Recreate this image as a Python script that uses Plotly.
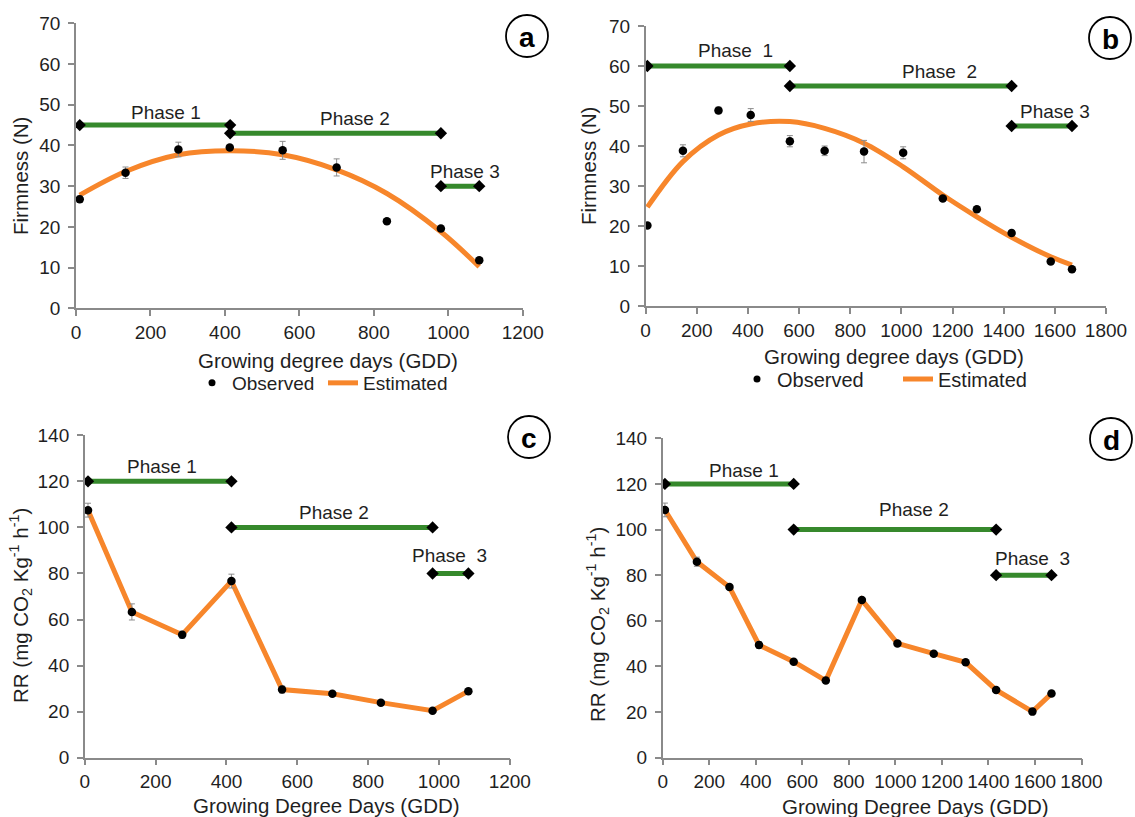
import plotly.graph_objects as go

# ---------------- data ----------------
# Panel a: firmness vs GDD
a_gdd = [10, 133, 275, 413, 555, 700, 835, 980, 1083]
a_obs = [26.8, 33.3, 39.0, 39.5, 38.8, 34.6, 21.4, 19.6, 11.8]
a_err = [0.8, 1.4, 1.8, 0.5, 2.2, 2.1, 0.5, 0.5, 0.5]
a_est = [27.8, 33.6, 37.7, 38.7, 37.7, 34.0, 28.2, 18.8, 10.2]
a_phase_start = [10, 414, 980]
a_phase_end = [414, 980, 1083]
a_phase_level = [45, 43, 30]
a_phase_text = ["Phase 1", "Phase 2", "Phase 3"]
a_phase_tx = [241, 749, 1046]
a_phase_ty = [48.1, 46.7, 33.6]

# Panel b: firmness vs GDD
b_gdd = [7, 146, 285, 411, 564, 700, 854, 1007, 1162, 1295, 1431, 1584, 1667]
b_obs = [20.1, 38.8, 48.9, 47.75, 41.2, 38.8, 38.6, 38.3, 26.9, 24.2, 18.25, 11.1, 9.2]
b_err = [0.5, 1.5, 0.8, 1.6, 1.4, 1.2, 2.8, 1.5, 0.5, 0.6, 0.6, 0.5, 0.4]
b_est = [24.7, 36.1, 42.75, 45.5, 46.1, 44.4, 40.7, 34.8, 27.75, 22.3, 17.2, 12.3, 10.25]
b_phase_start = [7, 564, 1431]
b_phase_end = [564, 1431, 1667]
b_phase_level = [60, 55, 45]
b_phase_text = ["Phase  1", "Phase  2", "Phase 3"]
b_phase_tx = [350, 1148, 1600]
b_phase_ty = [63.8, 58.6, 48.75]

# Panel c: respiration rate vs GDD
c_gdd = [9, 133, 275, 414, 557, 699, 836, 982, 1083]
c_obs = [107.5, 63.3, 53.4, 76.7, 29.6, 27.8, 23.9, 20.4, 28.9]
c_err = [3.0, 3.5, 1.5, 3.0, 1.5, 0.8, 0.8, 0.8, 0.8]
c_phase_start = [9, 414, 982]
c_phase_end = [414, 982, 1083]
c_phase_level = [120, 100, 80]
c_phase_text = ["Phase 1", "Phase 2", "Phase  3"]
c_phase_tx = [217, 705, 1030]
c_phase_ty = [126.5, 106.3, 87.9]

# Panel d: respiration rate vs GDD
d_gdd = [9.5, 147, 287, 414, 563, 701, 856, 1009, 1165, 1302, 1433, 1589, 1671]
d_obs = [108.6, 85.9, 74.8, 49.4, 42.1, 33.8, 69.1, 50.1, 45.6, 41.8, 29.7, 20.2, 28.1]
d_err = [3.0, 2.0, 1.0, 1.5, 0.8, 0.8, 0.8, 0.8, 0.8, 0.8, 0.8, 0.8, 0.8]
d_phase_start = [9.5, 563, 1433]
d_phase_end = [563, 1433, 1671]
d_phase_level = [120, 100, 80]
d_phase_text = ["Phase 1", "Phase 2", "Phase  3"]
d_phase_tx = [350, 1080, 1589]
d_phase_ty = [125.7, 108.9, 87.4]

x_ticks_a = [0, 200, 400, 600, 800, 1000, 1200]
x_ticks_b = [0, 200, 400, 600, 800, 1000, 1200, 1400, 1600, 1800]
y_ticks_firm = [0, 10, 20, 30, 40, 50, 60, 70]
y_ticks_rr = [0, 20, 40, 60, 80, 100, 120, 140]

# ---------------- style ----------------
W, H = 1135, 817
FONT = "Liberation Sans, Arial, sans-serif"
TXT = "#1f1f1f"
ORANGE = "#F7862B"
GREEN = "#36892C"
AXC = "#8a8a8a"
FS = 19
FS_TITLE = 20.5


def px_dom_x(x0, x1):
    return [x0 / W, x1 / W]


def px_dom_y(top, bottom):
    return [1 - bottom / H, 1 - top / H]


fig = go.Figure()

panels = [
    dict(xa="x", ya="y", gdd=a_gdd, obs=a_obs, err=a_err, est=a_est,
         ps=a_phase_start, pe=a_phase_end, pl=a_phase_level, pt=a_phase_text,
         ptx=a_phase_tx, pty=a_phase_ty),
    dict(xa="x2", ya="y2", gdd=b_gdd, obs=b_obs, err=b_err, est=b_est,
         ps=b_phase_start, pe=b_phase_end, pl=b_phase_level, pt=b_phase_text,
         ptx=b_phase_tx, pty=b_phase_ty),
    dict(xa="x3", ya="y3", gdd=c_gdd, obs=c_obs, err=c_err, est=None,
         ps=c_phase_start, pe=c_phase_end, pl=c_phase_level, pt=c_phase_text,
         ptx=c_phase_tx, pty=c_phase_ty),
    dict(xa="x4", ya="y4", gdd=d_gdd, obs=d_obs, err=d_err, est=None,
         ps=d_phase_start, pe=d_phase_end, pl=d_phase_level, pt=d_phase_text,
         ptx=d_phase_tx, pty=d_phase_ty),
]

annotations = []
for p in panels:
    # estimated curve (a, b) or connecting line (c, d)
    if p["est"] is not None:
        fig.add_trace(go.Scatter(
            x=p["gdd"], y=p["est"], mode="lines", name="Estimated",
            line=dict(color=ORANGE, width=5, shape="spline", smoothing=1.0),
            xaxis=p["xa"], yaxis=p["ya"], showlegend=False, hoverinfo="skip"))
    else:
        fig.add_trace(go.Scatter(
            x=p["gdd"], y=p["obs"], mode="lines",
            line=dict(color=ORANGE, width=5),
            xaxis=p["xa"], yaxis=p["ya"], showlegend=False, hoverinfo="skip"))
    # observed
    fig.add_trace(go.Scatter(
        x=p["gdd"], y=p["obs"], mode="markers", name="Observed",
        marker=dict(color="black", size=8.5, symbol="circle"),
        error_y=dict(type="data", array=p["err"], color="#8c8c8c", thickness=1, width=3),
        xaxis=p["xa"], yaxis=p["ya"], showlegend=False))
    # phase bars
    for s, e, lv in zip(p["ps"], p["pe"], p["pl"]):
        fig.add_trace(go.Scatter(
            x=[s, e], y=[lv, lv], mode="lines+markers",
            line=dict(color=GREEN, width=5),
            marker=dict(color="black", size=9.5, symbol="diamond"),
            xaxis=p["xa"], yaxis=p["ya"], showlegend=False, hoverinfo="skip"))
    for t, tx, ty in zip(p["pt"], p["ptx"], p["pty"]):
        annotations.append(dict(
            x=tx, y=ty, xref=p["xa"], yref=p["ya"], text=t, showarrow=False,
            font=dict(family=FONT, size=FS, color=TXT), xanchor="center", yanchor="middle"))

# legend entries (panels a & b)
for leg in ["legend", "legend2"]:
    fig.add_trace(go.Scatter(
        x=[None], y=[None], mode="markers", name="Observed",
        marker=dict(color="black", size=7, symbol="circle"),
        legend=leg, showlegend=True, xaxis="x", yaxis="y"))
    fig.add_trace(go.Scatter(
        x=[None], y=[None], mode="lines", name="Estimated",
        line=dict(color=ORANGE, width=5),
        legend=leg, showlegend=True, xaxis="x", yaxis="y"))


def axis_common(rng, ticks, domain, anchor, standoff=0):
    d = dict(range=rng, tickvals=ticks, domain=domain, anchor=anchor, automargin=False,
             showline=True, linecolor=AXC, linewidth=1.5, ticks="outside",
             ticklen=6, tickcolor=AXC, tickwidth=1.5, showgrid=False, zeroline=False,
             tickfont=dict(family=FONT, size=FS, color=TXT), fixedrange=True)
    if standoff:
        d["ticklabelstandoff"] = standoff
    return d


layout = dict(
    width=W, height=H, autosize=False,
    margin=dict(l=0, r=0, t=0, b=0, pad=0),
    paper_bgcolor="white", plot_bgcolor="white",
    font=dict(family=FONT, size=FS, color=TXT),
    xaxis=axis_common([0, 1200], x_ticks_a, px_dom_x(76, 522.8), "y"),
    yaxis=axis_common([0, 70], y_ticks_firm, px_dom_y(23.3, 308.3), "x", 4),
    xaxis2=axis_common([0, 1800], x_ticks_b, px_dom_x(645.6, 1106), "y2"),
    yaxis2=axis_common([0, 70], y_ticks_firm, px_dom_y(26, 306), "x2", 4),
    xaxis3=axis_common([0, 1200], x_ticks_a, px_dom_x(84.8, 509.8), "y3"),
    yaxis3=axis_common([0, 140], y_ticks_rr, px_dom_y(435.3, 757.7), "x3", 4),
    xaxis4=axis_common([0, 1800], x_ticks_b, px_dom_x(662.7, 1081.5), "y4"),
    yaxis4=axis_common([0, 140], y_ticks_rr, px_dom_y(438.3, 757.7), "x4", 4),
    legend=dict(orientation="h", x=192 / W, y=1 - 383 / H, xanchor="left", yanchor="middle",
                font=dict(family=FONT, size=FS, color=TXT), bgcolor="rgba(0,0,0,0)",
                traceorder="normal", itemwidth=30, entrywidth=86, entrywidthmode="pixels"),
    legend2=dict(orientation="h", x=737 / W, y=1 - 379 / H, xanchor="left", yanchor="middle",
                 font=dict(family=FONT, size=20, color=TXT), bgcolor="rgba(0,0,0,0)",
                 traceorder="normal", itemwidth=30, entrywidth=116, entrywidthmode="pixels"),
    showlegend=True,
)

# axis titles as annotations
xtitles = [("Growing degree days (GDD)", 328, 360), ("Growing degree days (GDD)", 894, 356),
           ("Growing Degree Days (GDD)", 326, 805), ("Growing Degree Days (GDD)", 915, 806)]
for t, cx, cy in xtitles:
    annotations.append(dict(x=cx / W, y=1 - cy / H, xref="paper", yref="paper", text=t,
                            showarrow=False, xanchor="center", yanchor="middle",
                            font=dict(family=FONT, size=FS_TITLE, color=TXT)))
rr_title = "RR (mg CO<sub>2</sub> Kg<sup>-1</sup> h<sup>-1</sup>)"
ytitles = [("Firmness (N)", 20, 176), ("Firmness (N)", 588, 166),
           (rr_title, 20, 606), (rr_title, 597, 625)]
for t, cx, cy in ytitles:
    annotations.append(dict(x=cx / W, y=1 - cy / H, xref="paper", yref="paper", text=t,
                            showarrow=False, xanchor="center", yanchor="middle", textangle=-90,
                            font=dict(family=FONT, size=FS_TITLE, color=TXT)))

# circled panel letters
shapes = []
letters = [("a", 527, 36), ("b", 1110, 38), ("c", 529, 437), ("d", 1111, 439)]
R = 21
for L, cx, cy in letters:
    shapes.append(dict(type="circle", xref="paper", yref="paper",
                       x0=(cx - R) / W, x1=(cx + R) / W, y0=1 - (cy + R) / H, y1=1 - (cy - R) / H,
                       line=dict(color="black", width=1.8), fillcolor="white"))
    annotations.append(dict(x=cx / W, y=1 - (cy + 1) / H, xref="paper", yref="paper",
                            text="<b>%s</b>" % L, showarrow=False, xanchor="center", yanchor="middle",
                            font=dict(family=FONT, size=28, color="black")))

layout["annotations"] = annotations
layout["shapes"] = shapes
fig.update_layout(**layout)

fig.write_html(
    "out.html",
    config={"displayModeBar": False},
    post_script="document.body.style.margin='0';document.body.style.padding='0';",
)
